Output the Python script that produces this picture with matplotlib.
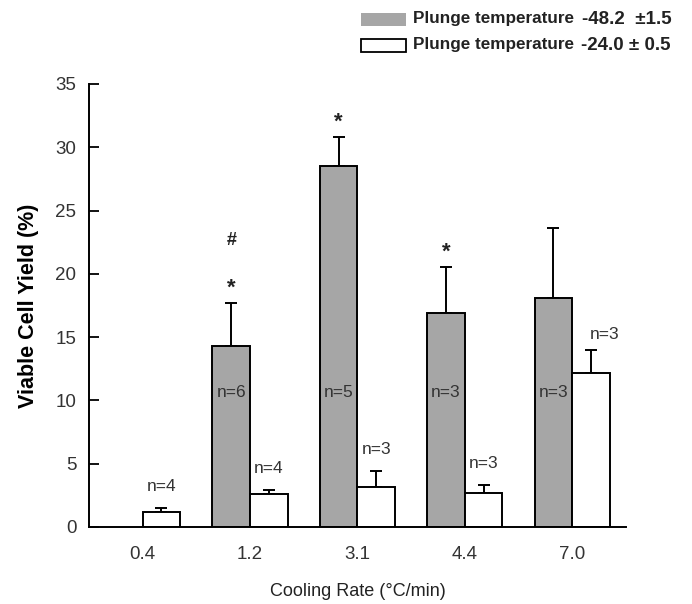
import numpy as np
import matplotlib.pyplot as plt
from matplotlib.patches import Rectangle

plt.rcParams['font.family'] = ['Liberation Sans', 'DejaVu Sans']

# Дані
rates = ['0.4', '1.2', '3.1', '4.4', '7.0']
yield_48 = [np.nan, 14.3, 28.5, 16.9, 18.1]
err_48 = [0.0, 3.4, 2.3, 3.6, 5.5]
yield_24 = [1.15, 2.6, 3.15, 2.7, 12.2]
err_24 = [0.35, 0.35, 1.3, 0.6, 1.8]
n_48 = ['', 'n=6', 'n=5', 'n=3', 'n=3']
n_24 = ['n=4', 'n=4', 'n=3', 'n=3', 'n=3']
marks_48 = ['', '*', '*', '*', '']

gray = '#a6a6a6'
txt = '#333333'
w = 0.35
x = np.arange(len(rates))

fig = plt.figure(figsize=(6.92, 6.04), dpi=100)
ax = fig.add_axes([0.1286, 0.1275, 0.776, 0.7335])

ax.bar(x - w / 2, yield_48, w, color=gray, edgecolor='black', linewidth=1.4, zorder=2)
ax.bar(x + w / 2, yield_24, w, color='white', edgecolor='black', linewidth=1.4, zorder=2)

e48 = np.array(err_48)
ax.errorbar(x[1:] - w / 2, np.array(yield_48[1:]), yerr=[np.zeros(4), e48[1:]],
            fmt='none', ecolor='black', elinewidth=1.4, capsize=4, capthick=1.4, zorder=1)
ax.errorbar(x + w / 2, yield_24, yerr=[np.zeros(5), err_24],
            fmt='none', ecolor='black', elinewidth=1.4, capsize=4, capthick=1.4, zorder=1)

# підписи n= всередині сірих стовпців
for i in range(1, 5):
    ax.text(x[i] - w / 2, 10.6, n_48[i], ha='center', va='center', fontsize=12.5, color=txt, zorder=3)

# підписи n= над білими стовпцями
for i in range(5):
    if i == 4:
        ax.text(x[i] + w / 2 - 0.01, yield_48[i] - 2.9, n_24[i], ha='left', va='center', fontsize=12.5, color=txt)
    else:
        top = yield_24[i] + err_24[i]
        ax.text(x[i] + w / 2, top + 1.7, n_24[i], ha='center', va='center', fontsize=12.5, color=txt)

# зірочки
for i in range(5):
    if marks_48[i]:
        top = yield_48[i] + err_48[i]
        ax.text(x[i] - w / 2, top + 1.2, marks_48[i], ha='center', va='center', fontsize=16, fontweight='bold', color='#222222')
ax.text(x[1] - w / 2, 22.6, '#', ha='center', va='center', fontsize=13, fontweight='bold', color='#222222')

ax.set_xlim(-0.5, 4.5)
ax.set_ylim(0, 35)
ax.set_yticks(np.arange(0, 36, 5))
ax.set_xticks(x)
ax.set_xticklabels(rates)
ax.tick_params(axis='y', direction='in', length=7, width=1.3, pad=9, labelsize=13.5, labelcolor=txt)
ax.tick_params(axis='x', length=0, pad=14, labelsize=13.5, labelcolor=txt)
for s in ['top', 'right']:
    ax.spines[s].set_visible(False)
for s in ['left', 'bottom']:
    ax.spines[s].set_linewidth(1.4)

ax.set_ylabel('Viable Cell Yield (%)', fontsize=15.5, fontweight='bold', labelpad=12)
ax.set_xlabel('Cooling Rate (°C/min)', fontsize=13, color='#222222', labelpad=14)

# легенда
W, H = 692.0, 604.0
fig.patches.append(Rectangle((361 / W, 1 - 26 / H), 45 / W, 13 / H, transform=fig.transFigure,
                             facecolor=gray, edgecolor='none'))
fig.patches.append(Rectangle((361 / W, 1 - 52 / H), 45 / W, 13 / H, transform=fig.transFigure,
                             facecolor='white', edgecolor='black', linewidth=1.3))
fig.text(413 / W, 1 - 19 / H, 'Plunge temperature', fontsize=12.3, fontweight='bold', va='center', color='#222222')
fig.text(413 / W, 1 - 45 / H, 'Plunge temperature', fontsize=12.3, fontweight='bold', va='center', color='#222222')
fig.text(582 / W, 1 - 19 / H, '-48.2  ±1.5', fontsize=13.5, fontweight='bold', va='center', color='#222222')
fig.text(581 / W, 1 - 45 / H, '-24.0 ± 0.5', fontsize=13.5, fontweight='bold', va='center', color='#222222')

fig.savefig('out.png', dpi=100)
